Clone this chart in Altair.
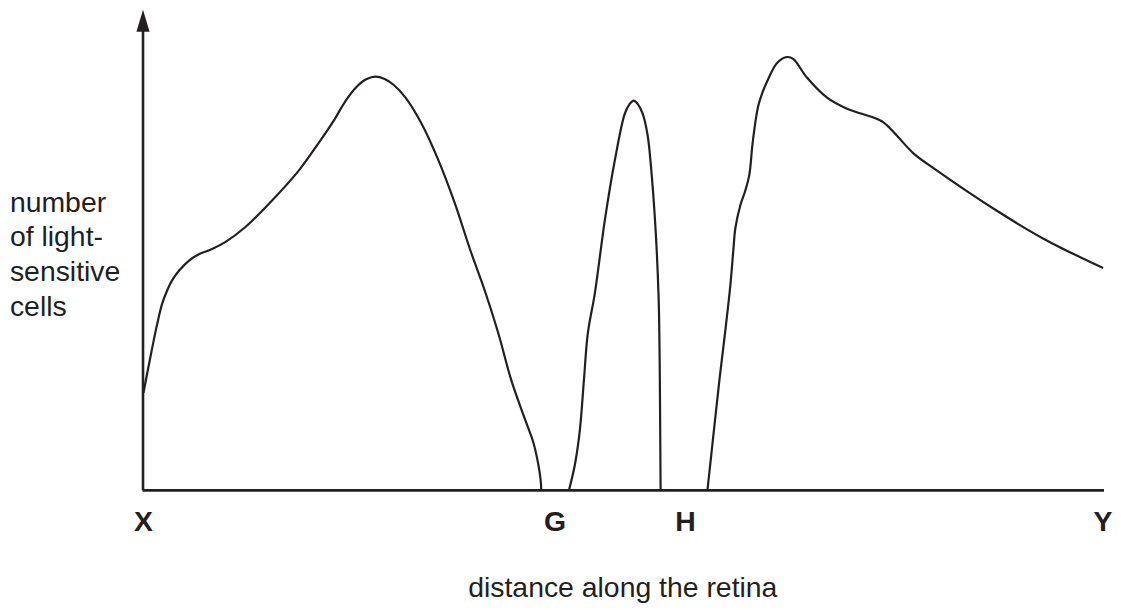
import altair as alt
import pandas as pd

# ---- data (distance units: X=0, Y=100; count units: baseline=0) ----
seg1_x = [0, 0.42, 0.93, 1.45, 1.97, 2.49, 3.01, 3.74, 4.78, 5.82, 6.85, 8.52, 10.59, 13.40,
          16.20, 18.28, 19.83, 21.08, 22.22, 23.26, 24.19, 25.13, 26.06, 27.31, 28.97, 30.74,
          32.45, 34.06, 35.51, 36.97, 38.32, 39.62, 40.60, 41.09, 41.38, 41.46]
seg1_y = [20.4, 24.8, 30.0, 35.0, 39.2, 41.9, 44.0, 46.0, 48.1, 49.4, 50.2, 51.9, 55.0, 60.6,
          66.9, 72.7, 77.3, 81.5, 84.4, 86.0, 86.5, 86.0, 84.8, 82.1, 76.7, 69.0,
          60.0, 50.2, 42.1, 32.9, 23.1, 15.6, 10.2, 6.0, 2.3, 0]

seg2_x = [44.34, 44.96, 45.48, 45.90, 46.31, 47.04, 48.08, 49.12, 50.16, 50.67, 51.09, 51.50,
          52.02, 52.54, 52.86, 53.37, 53.69, 53.79, 53.84, 53.89]
seg2_y = [0, 5.4, 12.7, 23.1, 32.9, 41.25, 56.5, 69.0, 78.75, 80.8, 81.5, 80.8,
          78.75, 74.2, 68.3, 54.4, 39.8, 27.3, 14.8, 0]

seg3_x = [58.77, 59.40, 60.02, 60.64, 61.16, 61.47, 61.68, 62.20, 62.72, 63.14, 63.45, 63.76,
          64.07, 64.49, 65.01, 66.05, 67.08, 67.71, 69.16, 71.24, 73.31, 76.12, 77.15, 78.50,
          80.27, 82.66, 88.89, 94.08, 100]
seg3_y = [0, 11.7, 23.1, 33.5, 42.9, 50.2, 54.8, 59.6, 62.7, 66.0, 72.1, 76.9,
          80.4, 83.1, 85.6, 89.4, 90.6, 90.2, 86.25, 82.1, 79.8, 77.9, 76.9, 74.2,
          70.4, 66.9, 58.5, 52.3, 46.5]

point_labels = ["X", "G", "H", "Y"]
point_pos = [0, 42.89, 56.49, 100]

y_title_lines = ["number", "of light-", "sensitive", "cells"]
x_title = "distance along the retina"

# ---- build tables ----
rows = []
for name, xs_, ys_ in [("a", seg1_x, seg1_y), ("b", seg2_x, seg2_y), ("c", seg3_x, seg3_y)]:
    for xv, yv in zip(xs_, ys_):
        rows.append({"seg": name, "d": float(xv), "n": float(yv)})
curves = pd.DataFrame(rows)

XS = alt.Scale(domain=[-14.12, 100.62], nice=False, zero=False)
YS = alt.Scale(domain=[-23.125, 100.625], nice=False, zero=False)
FONT = "Liberation Sans"
INK = "#231f20"
FS = 28.5


def X(f):
    return alt.X(f, scale=XS, axis=None)


def Y(f):
    return alt.Y(f, scale=YS, axis=None)


lines = alt.Chart(curves).mark_line(
    interpolate="catmull-rom", color=INK, strokeWidth=2.2
).encode(x=X("d:Q"), y=Y("n:Q"), detail="seg:N")

x_axis = alt.Chart(pd.DataFrame({"d": [-0.1], "d2": [100.1], "n": [0.0]})).mark_rule(
    color=INK, strokeWidth=2.6
).encode(x=X("d:Q"), x2="d2:Q", y=Y("n:Q"))

y_axis = alt.Chart(pd.DataFrame({"d": [-0.05], "n": [0.0], "n2": [96.5]})).mark_rule(
    color=INK, strokeWidth=2.6
).encode(x=X("d:Q"), y=Y("n:Q"), y2="n2:Q")

arrow = alt.Chart(pd.DataFrame({"d": [-0.05], "n": [98.2]})).mark_point(
    shape="M0,-1L0.6,1L-0.6,1Z", size=484, filled=True, color=INK, opacity=1
).encode(x=X("d:Q"), y=Y("n:Q"))

pt_lab = alt.Chart(pd.DataFrame({"t": point_labels, "d": point_pos, "n": [-8.54] * 4})).mark_text(
    font=FONT, fontSize=FS, fontWeight="bold", color=INK, baseline="alphabetic", align="center"
).encode(x=X("d:Q"), y=Y("n:Q"), text="t:N")

ytl = alt.Chart(pd.DataFrame({"t": y_title_lines, "d": [-13.92] * 4,
                              "n": [58.1, 51.0, 43.75, 36.5]})).mark_text(
    font=FONT, fontSize=FS, color=INK, baseline="alphabetic", align="left"
).encode(x=X("d:Q"), y=Y("n:Q"), text="t:N")

xtl = alt.Chart(pd.DataFrame({"t": [x_title], "d": [49.95], "n": [-22.3]})).mark_text(
    font=FONT, fontSize=FS, color=INK, baseline="alphabetic", align="center"
).encode(x=X("d:Q"), y=Y("n:Q"), text="t:N")

chart = alt.layer(x_axis, y_axis, arrow, lines, pt_lab, ytl, xtl).properties(
    width=1105, height=594, padding=0,
).configure_view(strokeWidth=0)

chart.save("out.html", embed_options={"renderer": "svg", "actions": False})
